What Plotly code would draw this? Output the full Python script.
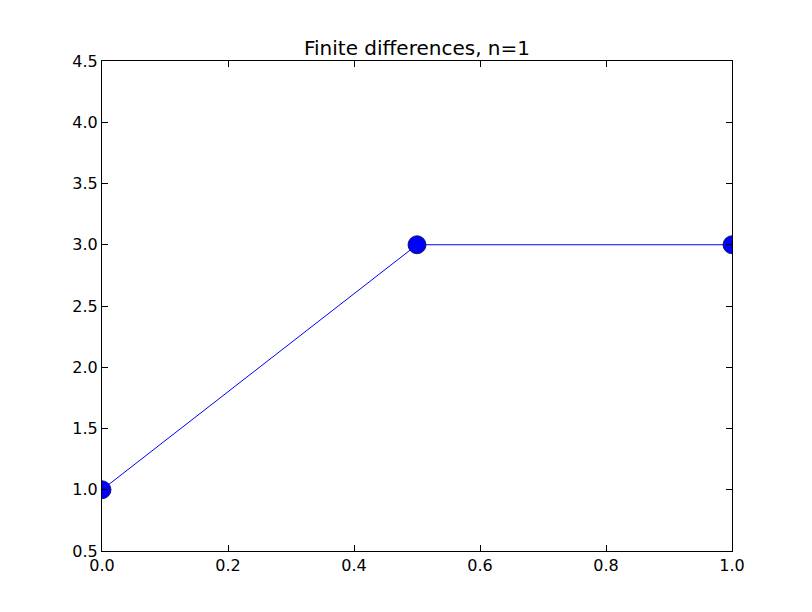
import plotly.graph_objects as go

x_vals = [0.0, 0.5, 1.0]
y_vals = [1.0, 3.0, 3.0]
x_ticks = [0.0, 0.2, 0.4, 0.6, 0.8, 1.0]
y_ticks = [0.5, 1.0, 1.5, 2.0, 2.5, 3.0, 3.5, 4.0, 4.5]
title_text = "Finite differences, n=1"

fig = go.Figure()
fig.add_trace(go.Scatter(
    x=x_vals, y=y_vals, mode="lines+markers",
    line=dict(color="#0000ff", width=1),
    marker=dict(size=18, color="#0000ff", line=dict(color="#000033", width=0.8)),
    cliponaxis=True,
))

axis_common = dict(
    showgrid=False, zeroline=False, showline=True, linecolor="black", linewidth=1,
    mirror="ticks", ticks="inside", ticklen=6, tickcolor="black", tickwidth=1,
    tickfont=dict(family="DejaVu Sans", size=16, color="black"),
)

fig.update_layout(
    width=800, height=600,
    margin=dict(l=94, r=76, t=53, b=57),
    paper_bgcolor="white", plot_bgcolor="white",
    showlegend=False,
    title=dict(text=title_text, x=0.5, xref="paper", xanchor="center",
               y=1, yref="paper", yanchor="bottom", pad=dict(b=6),
               font=dict(family="DejaVu Sans", size=20, color="black")),
    xaxis=dict(range=[0, 1], tickvals=x_ticks, ticktext=[f"{v:.1f}" for v in x_ticks], **axis_common),
    yaxis=dict(range=[0.5, 4.5], tickvals=y_ticks, ticktext=[f"{v:.1f}" for v in y_ticks], **axis_common),
)

fig.write_html("out.html")
